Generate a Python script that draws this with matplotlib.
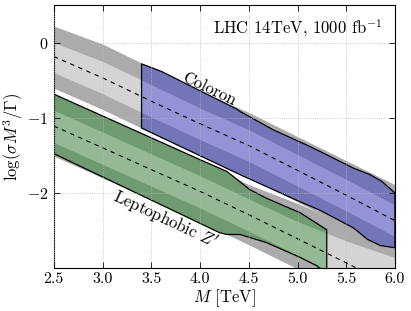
import numpy as np
import matplotlib
matplotlib.use("Agg")
import matplotlib.pyplot as plt
from matplotlib.patches import Polygon

plt.rcParams['font.family'] = 'serif'
plt.rcParams['font.serif'] = ['cmr10']
plt.rcParams['mathtext.fontset'] = 'cm'
plt.rcParams['axes.formatter.use_mathtext'] = True
plt.rcParams['axes.unicode_minus'] = True

# ---------------- data ----------------
mass = [2.5, 3.0, 3.5, 4.0, 4.5, 5.0, 5.5, 6.0]

# Coloron expected band (gray)
col_center = [-0.186, -0.47, -0.78, -1.08, -1.37, -1.70, -2.03, -2.37]
col_out_hi = [0.22, -0.02, -0.335, -0.64, -0.93, -1.25, -1.57, -1.89]
col_in_hi = [0.00, -0.25, -0.56, -0.87, -1.16, -1.49, -1.82, -2.16]
col_in_lo = [-0.40, -0.68, -0.99, -1.29, -1.58, -1.91, -2.24, -2.58]
col_out_lo = [-0.606, -0.89, -1.20, -1.50, -1.79, -2.12, -2.45, -2.79]

# Leptophobic Z' expected band (gray)
zp_center = [-1.11, -1.40, -1.69, -1.98, -2.29, -2.61, -2.93, -3.26]
zp_out_hi = [-0.68, -0.975, -1.27, -1.56, -1.89, -2.14, -2.42, -2.70]
zp_in_hi = [-0.90, -1.19, -1.48, -1.77, -2.08, -2.38, -2.64, -2.86]
zp_in_lo = [-1.33, -1.62, -1.91, -2.20, -2.51, -2.83, -3.15, -3.48]
zp_out_lo = [-1.51, -1.80, -2.09, -2.38, -2.69, -3.01, -3.33, -3.66]

# Coloron model region (blue) outline
col_reg_x = [3.4, 3.606, 4.376, 4.41, 4.75, 5.09, 5.265, 5.573, 5.744, 5.864, 6.0,
             6.0, 5.85, 5.72, 5.573, 5.23, 5.03, 4.41, 3.4]
col_reg_y = [-0.283, -0.385, -0.885, -0.916, -1.16, -1.36, -1.47, -1.67, -1.757, -1.846, -2.0,
             -2.73, -2.70, -2.62, -2.465, -2.23, -2.12, -1.757, -1.137]

# Leptophobic Z' model region (green) outline
zp_reg_x = [2.5, 4.0, 4.273, 4.34, 4.51, 4.68, 5.03, 5.30,
            5.30, 5.2, 5.03, 4.68, 4.41, 4.273, 4.204, 2.5]
zp_reg_y = [-0.686, -1.558, -1.713, -1.78, -1.956, -2.07, -2.266, -2.49,
            -3.10, -2.97, -2.86, -2.66, -2.553, -2.553, -2.531, -1.478]

title_text = 'LHC 14TeV, 1000 fb$^{-1}$'

# ---------------- colors ----------------
gray_dark = '#ababab'
gray_light = '#d4d4d4'
blue_dark = '#7474b8'
blue_light = '#9393d6'
green_dark = '#709a72'
green_light = '#94b994'

fig = plt.figure(figsize=(4.11, 3.11), dpi=100)
ax = fig.add_axes([0.131, 0.138, 0.830, 0.846])

m = np.array(mass)
# gray bands
ax.fill_between(m, col_out_lo, col_out_hi, color=gray_dark, lw=0, zorder=1)
ax.fill_between(m, col_in_lo, col_in_hi, color=gray_light, lw=0, zorder=1.1)
ax.fill_between(m, zp_out_lo, zp_out_hi, color=gray_dark, lw=0, zorder=1.2)
ax.fill_between(m, zp_in_lo, zp_in_hi, color=gray_light, lw=0, zorder=1.3)


def region(xs, ys, dark, light, lo, hi, z):
    poly = Polygon(np.column_stack([xs, ys]), closed=True, facecolor=dark,
                   edgecolor='none', zorder=z)
    ax.add_patch(poly)
    inner = ax.fill_between(m, lo, hi, color=light, lw=0, zorder=z + 0.01)
    inner.set_clip_path(poly)
    edge = Polygon(np.column_stack([xs, ys]), closed=True, facecolor='none',
                   edgecolor='black', lw=0.9, zorder=z + 0.02)
    ax.add_patch(edge)


region(col_reg_x, col_reg_y, blue_dark, blue_light, col_in_lo, col_in_hi, 1.5)
region(zp_reg_x, zp_reg_y, green_dark, green_light, zp_in_lo, zp_in_hi, 1.6)

ax.plot(m, col_center, color='black', ls=(0, (4, 4)), lw=0.8, zorder=2)
ax.plot(m, zp_center, color='black', ls=(0, (4, 4)), lw=0.8, zorder=2)

ax.set_xlim(2.5, 6.0)
ax.set_ylim(-3.0, 0.5)
ax.set_xticks(np.arange(2.5, 6.01, 0.5))
ax.set_xticklabels(['%.1f' % v for v in np.arange(2.5, 6.01, 0.5)])
ax.set_yticks([-2, -1, 0])
ax.tick_params(direction='in', top=True, right=True, labelsize=11.5, length=4, width=0.6)
ax.tick_params(axis='x', pad=3)
ax.tick_params(axis='y', pad=4)
ax.grid(True, color='#b8b8b8', ls=':', lw=0.6)
ax.set_axisbelow(False)

ax.set_xlabel(r'$M$ [TeV]', fontsize=12)
ax.set_ylabel(r'$\log(\sigma M^3/\Gamma)$', fontsize=12)
ax.xaxis.set_label_coords(0.5, -0.072)
ax.yaxis.set_label_coords(-0.086, 0.5)

ax.text(0.962, 0.955, title_text, transform=ax.transAxes, ha='right', va='top', fontsize=12)
ax.text(4.09, -0.62, 'Coloron', rotation=-25.5, ha='center', va='center', fontsize=12)
ax.text(3.64, -2.37, "Leptophobic $Z'$", rotation=-25, ha='center', va='center', fontsize=12)

for s in ax.spines.values():
    s.set_linewidth(0.8)

fig.savefig('out.png', dpi=100)
